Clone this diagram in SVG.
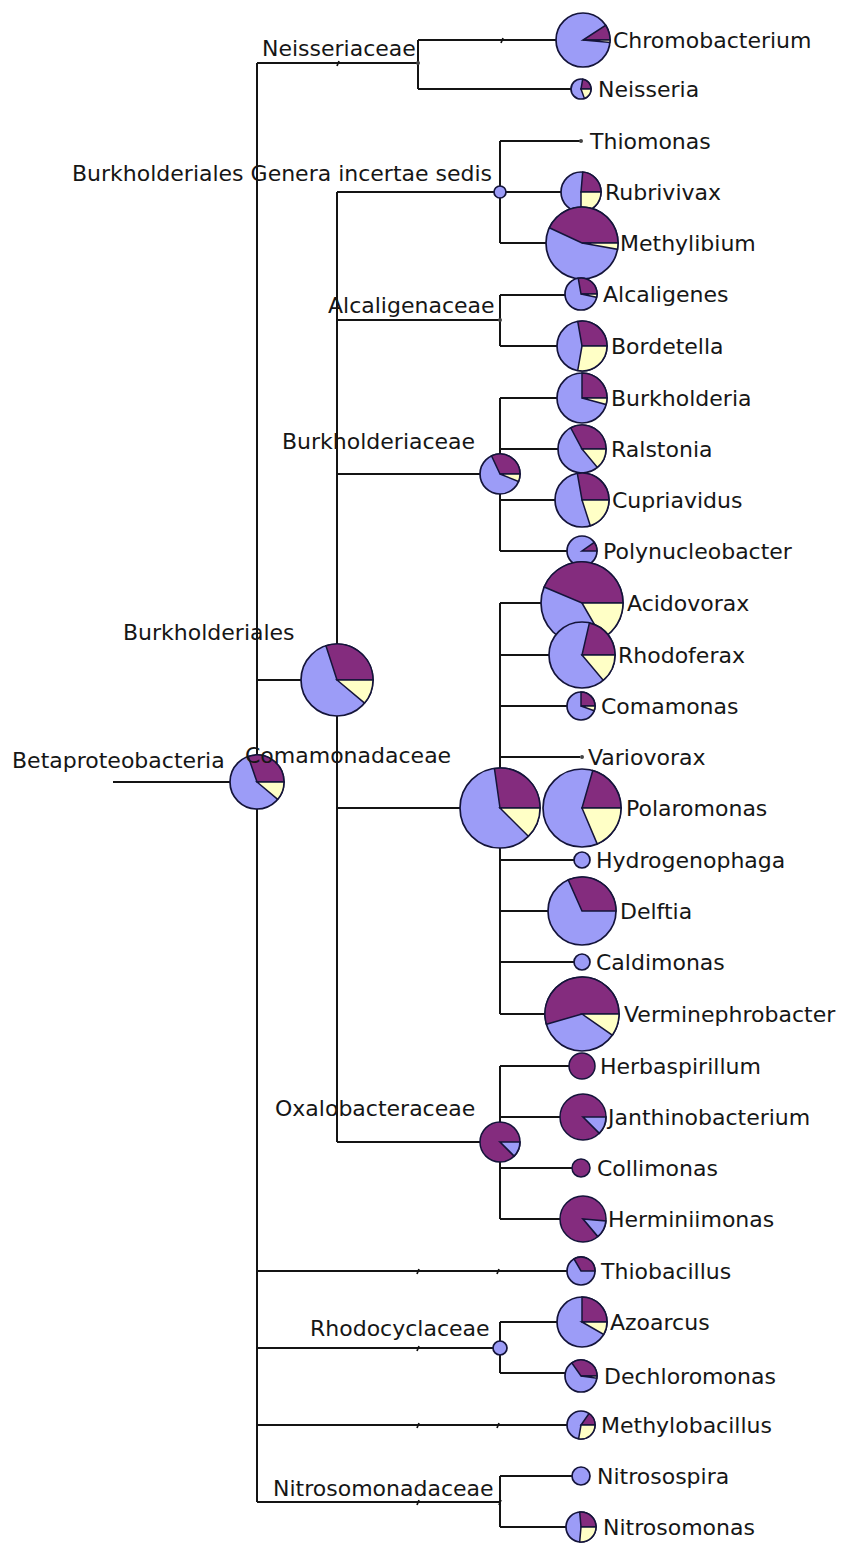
<svg xmlns="http://www.w3.org/2000/svg" width="842" height="1543" viewBox="0 0 842 1543">
<style>
.ln{stroke:#141414;stroke-width:2;fill:none}
.tk{stroke:#141414;stroke-width:1.7;fill:none}
.b{fill:#9c9cf7;stroke:#14143a;stroke-width:1.7}
.p{fill:#842c7e;stroke:#14143a;stroke-width:1.5}
.y{fill:#ffffc6;stroke:#14143a;stroke-width:1.5}
.d{fill:#444;stroke:none}
text{font-family:"DejaVu Sans","Liberation Sans",sans-serif;font-size:22px;fill:#161616}
.bg{fill:#fff}
</style>
<rect class="bg" x="0" y="0" width="842" height="1543"/>
<g id="connectors">
<path class="ln" d="M113,782H230 M257,63V1502 M257,63H418 M418,40V89 M418,40H556 M418,89H571 M257,680H301 M337,192V1142 M337,192H494 M500,141V243 M500,141H580 M500,192H561 M500,243H546 M337,320H500 M500,295V346 M500,295H565 M500,346H557 M337,474H480 M500,398V551 M500,398H557 M500,449H558 M500,500H555 M500,551H567 M337,808H460 M500,603V1014 M500,603H541 M500,655H549 M500,706H567 M500,757H580 M500,860H574 M500,911H548 M500,962H574 M500,1014H545 M337,1142H480 M500,1066V1219 M500,1066H569 M500,1117H560 M500,1168H572 M500,1219H560 M257,1271H567 M257,1348H493 M500,1322V1373 M500,1322H557 M500,1373H565 M257,1425H567 M257,1502H500 M500,1476V1527 M500,1476H572 M500,1527H566"/>
<path class="tk" d="M339,61L337,66 M503,38L501,43 M419,1269L417,1274 M499,1269L497,1274 M419,1346L417,1351 M419,1423L417,1428 M499,1423L497,1428 M419,1500L417,1505 M501,1500L499,1505"/>
</g>
<g id="n-betaproteobacteria">
<circle class="b" cx="257" cy="782" r="27"/>
<path class="p" d="M257,782L284,782A27,27 0 0 0 248.2,756.5Z"/>
<path class="y" d="M257,782L277.7,799.4A27,27 0 0 0 284,782Z"/>
<text x="12" y="768">Betaproteobacteria</text>
</g>
<g id="n-neisseriaceae">
<circle class="d" cx="418" cy="63" r="2"/>
<text x="262" y="56">Neisseriaceae</text>
</g>
<g id="n-chromobacterium">
<circle class="b" cx="583" cy="40" r="27"/>
<path class="p" d="M583,40L610,40A27,27 0 0 0 605.6,25.3Z"/>
<path class="y" d="M583,40L609.9,42.4A27,27 0 0 0 610,40Z"/>
<text x="613" y="48">Chromobacterium</text>
</g>
<g id="n-neisseria">
<circle class="b" cx="581" cy="89" r="10"/>
<path class="p" d="M581,89L591,89A10,10 0 0 0 582.7,79.2Z"/>
<path class="y" d="M581,89L584.4,98.4A10,10 0 0 0 591,89Z"/>
<text x="598" y="97">Neisseria</text>
</g>
<g id="n-burkholderiales">
<circle class="b" cx="337" cy="680" r="36"/>
<path class="p" d="M337,680L373,680A36,36 0 0 0 325.9,645.8Z"/>
<path class="y" d="M337,680L364.6,703.1A36,36 0 0 0 373,680Z"/>
<text x="123" y="640">Burkholderiales</text>
</g>
<g id="n-incertae-sedis">
<circle class="b" cx="500" cy="192" r="6"/>
<text x="72" y="181">Burkholderiales Genera incertae sedis</text>
</g>
<g id="n-thiomonas">
<circle class="d" cx="581" cy="141" r="2"/>
<text x="590" y="149">Thiomonas</text>
</g>
<g id="n-rubrivivax">
<circle class="b" cx="581" cy="192" r="20"/>
<path class="p" d="M581,192L601,192A20,20 0 0 0 582.7,172.1Z"/>
<path class="y" d="M581,192L581,212A20,20 0 0 0 601,192Z"/>
<text x="605" y="200">Rubrivivax</text>
</g>
<g id="n-methylibium">
<circle class="b" cx="582" cy="243" r="36"/>
<path class="p" d="M582,243L618,243A36,36 0 0 0 549.4,227.8Z"/>
<path class="y" d="M582,243L617.5,249.3A36,36 0 0 0 618,243Z"/>
<text x="620" y="251">Methylibium</text>
</g>
<g id="n-alcaligenaceae">
<circle class="d" cx="500" cy="320" r="2"/>
<text x="328" y="313">Alcaligenaceae</text>
</g>
<g id="n-alcaligenes">
<circle class="b" cx="581" cy="294" r="16"/>
<path class="p" d="M581,294L597,294A16,16 0 0 0 578.2,278.2Z"/>
<path class="y" d="M581,294L596.6,297.3A16,16 0 0 0 597,294Z"/>
<text x="603" y="302">Alcaligenes</text>
</g>
<g id="n-bordetella">
<circle class="b" cx="582" cy="346" r="25"/>
<path class="p" d="M582,346L607,346A25,25 0 0 0 577.7,321.4Z"/>
<path class="y" d="M582,346L577.7,370.6A25,25 0 0 0 607,346Z"/>
<text x="611" y="354">Bordetella</text>
</g>
<g id="n-burkholderiaceae">
<circle class="b" cx="500" cy="474" r="20"/>
<path class="p" d="M500,474L520,474A20,20 0 0 0 491.5,455.9Z"/>
<path class="y" d="M500,474L518.5,481.5A20,20 0 0 0 520,474Z"/>
<text x="282" y="449">Burkholderiaceae</text>
</g>
<g id="n-burkholderia">
<circle class="b" cx="582" cy="398" r="25"/>
<path class="p" d="M582,398L607,398A25,25 0 0 0 582,373Z"/>
<path class="y" d="M582,398L606.1,404.5A25,25 0 0 0 607,398Z"/>
<text x="611" y="406">Burkholderia</text>
</g>
<g id="n-ralstonia">
<circle class="b" cx="582" cy="449" r="24"/>
<path class="p" d="M582,449L606,449A24,24 0 0 0 570.7,427.8Z"/>
<path class="y" d="M582,449L597.4,467.4A24,24 0 0 0 606,449Z"/>
<text x="611" y="457">Ralstonia</text>
</g>
<g id="n-cupriavidus">
<circle class="b" cx="582" cy="500" r="27"/>
<path class="p" d="M582,500L609,500A27,27 0 0 0 577.3,473.4Z"/>
<path class="y" d="M582,500L590.3,525.7A27,27 0 0 0 609,500Z"/>
<text x="612" y="508">Cupriavidus</text>
</g>
<g id="n-polynucleobacter">
<circle class="b" cx="582" cy="551" r="15"/>
<path class="p" d="M582,551L597,551A15,15 0 0 0 594.3,542.4Z"/>
<text x="603" y="559">Polynucleobacter</text>
</g>
<g id="n-comamonadaceae">
<circle class="b" cx="500" cy="808" r="40"/>
<path class="p" d="M500,808L540,808A40,40 0 0 0 494.4,768.4Z"/>
<path class="y" d="M500,808L528.3,836.3A40,40 0 0 0 540,808Z"/>
<text x="245" y="763">Comamonadaceae</text>
</g>
<g id="n-acidovorax">
<circle class="b" cx="582" cy="603" r="41"/>
<path class="p" d="M582,603L623,603A41,41 0 0 0 544.2,587Z"/>
<path class="y" d="M582,603L602.5,638.5A41,41 0 0 0 623,603Z"/>
<text x="627" y="611">Acidovorax</text>
</g>
<g id="n-rhodoferax">
<circle class="b" cx="582" cy="655" r="33"/>
<path class="p" d="M582,655L615,655A33,33 0 0 0 589.4,622.9Z"/>
<path class="y" d="M582,655L603.2,680.3A33,33 0 0 0 615,655Z"/>
<text x="618" y="663">Rhodoferax</text>
</g>
<g id="n-comamonas">
<circle class="b" cx="581" cy="706" r="14"/>
<path class="p" d="M581,706L595,706A14,14 0 0 0 581,692Z"/>
<path class="y" d="M581,706L594.2,710.8A14,14 0 0 0 595,706Z"/>
<text x="601" y="714">Comamonas</text>
</g>
<g id="n-variovorax">
<circle class="d" cx="582" cy="757" r="2"/>
<text x="588" y="765">Variovorax</text>
</g>
<g id="n-polaromonas">
<circle class="b" cx="582" cy="808" r="39"/>
<path class="p" d="M582,808L621,808A39,39 0 0 0 592.8,770.5Z"/>
<path class="y" d="M582,808L597.2,843.9A39,39 0 0 0 621,808Z"/>
<text x="626" y="816">Polaromonas</text>
</g>
<g id="n-hydrogenophaga">
<circle class="b" cx="582" cy="860" r="8"/>
<text x="596" y="868">Hydrogenophaga</text>
</g>
<g id="n-delftia">
<circle class="b" cx="582" cy="911" r="34"/>
<path class="p" d="M582,911L616,911A34,34 0 0 0 568.2,879.9Z"/>
<text x="620" y="919">Delftia</text>
</g>
<g id="n-caldimonas">
<circle class="b" cx="582" cy="962" r="8"/>
<text x="596" y="970">Caldimonas</text>
</g>
<g id="n-verminephrobacter">
<circle class="b" cx="582" cy="1014" r="37"/>
<path class="p" d="M582,1014L619,1014A37,37 0 1 0 546.4,1024.2Z"/>
<path class="y" d="M582,1014L612.3,1035.2A37,37 0 0 0 619,1014Z"/>
<text x="624" y="1022">Verminephrobacter</text>
</g>
<g id="n-oxalobacteraceae">
<circle class="p" cx="500" cy="1142" r="20"/>
<path class="b" d="M500,1142L514.1,1156.1A20,20 0 0 0 520,1142Z"/>
<text x="275" y="1116">Oxalobacteraceae</text>
</g>
<g id="n-herbaspirillum">
<circle class="p" cx="582" cy="1066" r="13"/>
<text x="600" y="1074">Herbaspirillum</text>
</g>
<g id="n-janthinobacterium">
<circle class="p" cx="583" cy="1117" r="23"/>
<path class="b" d="M583,1117L599.3,1133.3A23,23 0 0 0 606,1117Z"/>
<text x="608" y="1125">Janthinobacterium</text>
</g>
<g id="n-collimonas">
<circle class="p" cx="581" cy="1168" r="9"/>
<text x="597" y="1176">Collimonas</text>
</g>
<g id="n-herminiimonas">
<circle class="p" cx="583" cy="1219" r="23"/>
<path class="b" d="M583,1219L597.8,1236.6A23,23 0 0 0 605.9,1221Z"/>
<text x="608" y="1227">Herminiimonas</text>
</g>
<g id="n-thiobacillus">
<circle class="b" cx="581" cy="1271" r="14"/>
<path class="p" d="M581,1271L595,1271A14,14 0 0 0 574,1258.9Z"/>
<text x="601" y="1279">Thiobacillus</text>
</g>
<g id="n-rhodocyclaceae">
<circle class="b" cx="500" cy="1348" r="7"/>
<text x="310" y="1336">Rhodocyclaceae</text>
</g>
<g id="n-azoarcus">
<circle class="b" cx="582" cy="1322" r="25"/>
<path class="p" d="M582,1322L607,1322A25,25 0 0 0 582,1297Z"/>
<path class="y" d="M582,1322L603.7,1334.5A25,25 0 0 0 607,1322Z"/>
<text x="610" y="1330">Azoarcus</text>
</g>
<g id="n-dechloromonas">
<circle class="b" cx="581" cy="1376" r="16"/>
<path class="p" d="M581,1376L597,1376A16,16 0 0 0 571.8,1362.9Z"/>
<path class="y" d="M581,1376L596.8,1378.2A16,16 0 0 0 597,1376Z"/>
<text x="604" y="1384">Dechloromonas</text>
</g>
<g id="n-methylobacillus">
<circle class="b" cx="581" cy="1425" r="14"/>
<path class="p" d="M581,1425L595,1425A14,14 0 0 0 589,1413.5Z"/>
<path class="y" d="M581,1425L578.6,1438.8A14,14 0 0 0 595,1425Z"/>
<text x="601" y="1433">Methylobacillus</text>
</g>
<g id="n-nitrosomonadaceae">
<text x="273" y="1496">Nitrosomonadaceae</text>
</g>
<g id="n-nitrosospira">
<circle class="b" cx="581" cy="1476" r="9"/>
<text x="597" y="1484">Nitrosospira</text>
</g>
<g id="n-nitrosomonas">
<circle class="b" cx="581" cy="1527" r="15"/>
<path class="p" d="M581,1527L596,1527A15,15 0 0 0 579.7,1512.1Z"/>
<path class="y" d="M581,1527L579.7,1541.9A15,15 0 0 0 596,1527Z"/>
<text x="603" y="1535">Nitrosomonas</text>
</g>
</svg>
